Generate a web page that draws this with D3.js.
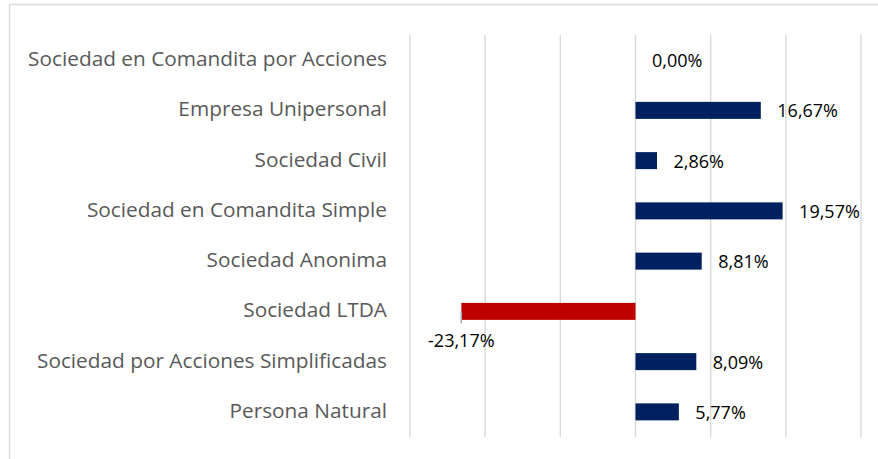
<!DOCTYPE html>
<html>
<head>
<meta charset="utf-8">
<script src="https://cdn.jsdelivr.net/npm/d3@7/dist/d3.min.js"></script>
<style>
  html, body { margin: 0; padding: 0; background: #fff; }
  svg { display: block; }
</style>
</head>
<body>
<svg id="chart" width="878" height="459"></svg>
<script>
const categories = [
  "Sociedad en Comandita por Acciones",
  "Empresa Unipersonal",
  "Sociedad Civil",
  "Sociedad en Comandita Simple",
  "Sociedad Anonima",
  "Sociedad LTDA",
  "Sociedad por Acciones Simplificadas",
  "Persona Natural"
];
const values = [0.00, 16.67, 2.86, 19.57, 8.81, -23.17, 8.09, 5.77];
const gridTicks = [-30, -20, -10, 0, 10, 20, 30];

const svg = d3.select("#chart");

// chart border
svg.append("rect")
  .attr("x", 9.5).attr("y", 4.5)
  .attr("width", 1000).attr("height", 1000)
  .attr("fill", "none")
  .attr("stroke", "#d9d9d9")
  .attr("stroke-width", 1.5);

const x = d3.scaleLinear().domain([-30, 30]).range([410, 861]);
const pad = 1 - 17 / 50.25;
const y = d3.scaleBand().domain(categories).range([35, 437])
  .paddingInner(pad).paddingOuter(pad / 2);

const locale = d3.formatLocale({decimal: ",", thousands: ".", grouping: [3], currency: ["", ""]});
const f2 = locale.format(".2f");
const fmt = v => (v < 0 ? "-" : "") + f2(Math.abs(v)) + "%";

// gridlines
svg.append("g").selectAll("line").data(gridTicks).join("line")
  .attr("x1", d => x(d)).attr("x2", d => x(d))
  .attr("y1", 35).attr("y2", 437)
  .attr("stroke", "#d9d9d9").attr("stroke-width", 1.4);

// category labels
svg.append("g").selectAll("text").data(categories).join("text")
  .attr("x", 387)
  .attr("y", d => y(d) + y.bandwidth() / 2 + 6)
  .attr("text-anchor", "end")
  .attr("font-family", "'Open Sans', sans-serif")
  .attr("font-size", 20.8)
  .attr("fill", "#595959")
  .text(d => d);

const data = categories.map((c, i) => ({c, v: values[i]}));

// bars
svg.append("g").selectAll("rect").data(data.filter(d => d.v !== 0)).join("rect")
  .attr("x", d => x(Math.min(0, d.v)))
  .attr("y", d => y(d.c))
  .attr("width", d => Math.abs(x(d.v) - x(0)))
  .attr("height", y.bandwidth())
  .attr("fill", d => d.v < 0 ? "#c00000" : "#002060");

// leader line for negative label
svg.append("g").selectAll("line").data(data.filter(d => d.v < 0)).join("line")
  .attr("x1", d => x(d.v)).attr("x2", d => x(d.v))
  .attr("y1", d => y(d.c) + y.bandwidth() / 2)
  .attr("y2", d => y(d.c) + y.bandwidth() / 2 + 12)
  .attr("stroke", "#a6a6a6").attr("stroke-width", 1.5);

// value labels
svg.append("g").selectAll("text").data(data).join("text")
  .attr("x", d => d.v < 0 ? x(d.v) : x(d.v) + 16.5)
  .attr("y", d => y(d.c) + y.bandwidth() / 2 + (d.v < 0 ? 36 : 7))
  .attr("text-anchor", d => d.v < 0 ? "middle" : "start")
  .attr("font-family", "'Open Sans', sans-serif")
  .attr("font-size", 18)
  .attr("fill", "#000")
  .text(d => fmt(d.v));
</script>
</body>
</html>
